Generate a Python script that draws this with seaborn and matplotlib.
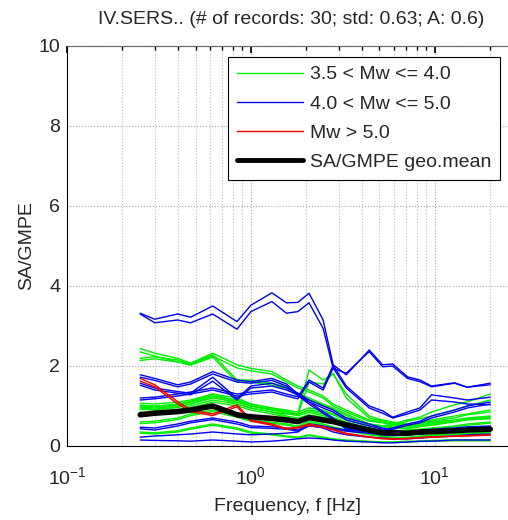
import numpy as np
import pandas as pd
import matplotlib
matplotlib.use("Agg")
import matplotlib.pyplot as plt
from matplotlib.lines import Line2D
import seaborn as sns

freqs = [0.25, 0.3, 0.4, 0.47, 0.62, 0.84, 1.0, 1.3, 1.56, 1.8, 2.07, 2.47,
         2.8, 3.3, 4.4, 5.2, 5.9, 7.1, 8.3, 9.6, 12.8, 15, 20]

# red: Mw > 5.0
R1a = [1.69, 1.53, 1.11, 0.90, 0.80, 1.03, 0.65, 0.55, 0.44, 0.47, 0.55, 0.48, 0.42, 0.32, 0.23, 0.19, 0.18, 0.19, 0.21, 0.23, 0.25, 0.26, 0.28]
R1b = [1.62, 1.48, 1.05, 0.86, 0.76, 0.98, 0.62, 0.52, 0.42, 0.45, 0.52, 0.46, 0.40, 0.30, 0.22, 0.18, 0.17, 0.18, 0.20, 0.22, 0.24, 0.25, 0.27]

# blue: 4.0 < Mw <= 5.0
B1a = [3.32, 3.17, 3.30, 3.22, 3.50, 3.11, 3.52, 3.83, 3.58, 3.59, 3.82, 3.15, 2.03, 1.78, 2.40, 2.03, 2.05, 1.73, 1.65, 1.50, 1.58, 1.47, 1.57]
B1b = [3.30, 3.08, 3.15, 3.08, 3.30, 2.92, 3.36, 3.61, 3.32, 3.36, 3.58, 2.94, 1.94, 1.82, 2.36, 1.98, 2.00, 1.69, 1.61, 1.48, 1.57, 1.47, 1.53]
B2a = [1.57, 1.45, 1.36, 1.32, 1.72, 1.19, 1.50, 1.57, 1.45, 1.32, 1.15, 1.00, 0.90, 0.70, 0.55, 0.45, 0.40, 0.35, 0.38, 0.42, 0.45, 0.48, 0.50]
B2b = [1.52, 1.40, 1.32, 1.28, 1.62, 1.15, 1.45, 1.50, 1.40, 1.28, 1.10, 0.95, 0.85, 0.65, 0.50, 0.42, 0.38, 0.33, 0.35, 0.40, 0.42, 0.45, 0.48]
B3a = [1.78, 1.69, 1.53, 1.60, 1.86, 1.65, 1.61, 1.69, 1.55, 1.30, 1.10, 0.86, 0.70, 0.45, 0.38, 0.40, 0.45, 0.55, 0.62, 0.75, 0.90, 1.00, 1.10]
B3b = [1.72, 1.64, 1.48, 1.55, 1.80, 1.60, 1.57, 1.64, 1.50, 1.26, 1.05, 0.82, 0.66, 0.42, 0.36, 0.38, 0.42, 0.52, 0.58, 0.70, 0.85, 0.95, 1.05]
B4a = [1.20, 1.22, 1.30, 1.35, 1.45, 1.30, 1.35, 1.40, 1.30, 1.23, 1.65, 1.45, 2.02, 1.50, 1.00, 0.88, 0.72, 0.85, 0.95, 1.28, 1.20, 1.15, 1.22]
B4b = [1.15, 1.18, 1.25, 1.30, 1.40, 1.25, 1.30, 1.35, 1.25, 1.18, 1.60, 1.40, 1.95, 1.45, 0.95, 0.82, 0.70, 0.80, 0.90, 1.15, 1.10, 1.05, 1.03]
B5a = [0.47, 0.45, 0.55, 0.62, 0.70, 0.60, 0.50, 0.48, 0.45, 0.40, 0.55, 0.50, 0.45, 0.40, 0.35, 0.30, 0.28, 0.30, 0.32, 0.35, 0.38, 0.40, 0.42]
B5b = [0.43, 0.40, 0.50, 0.58, 0.66, 0.55, 0.46, 0.44, 0.42, 0.37, 0.50, 0.46, 0.42, 0.37, 0.32, 0.28, 0.26, 0.28, 0.30, 0.32, 0.35, 0.37, 0.39]
B6a = [0.22, 0.25, 0.28, 0.30, 0.35, 0.30, 0.28, 0.30, 0.32, 0.35, 0.52, 0.45, 0.35, 0.28, 0.22, 0.20, 0.18, 0.18, 0.20, 0.22, 0.25, 0.28, 0.30]
B6b = [0.15, 0.14, 0.13, 0.12, 0.15, 0.12, 0.10, 0.12, 0.15, 0.18, 0.20, 0.18, 0.15, 0.12, 0.10, 0.08, 0.08, 0.10, 0.12, 0.12, 0.15, 0.15, 0.15]

# green: 3.5 < Mw <= 4.0
G1a = [2.44, 2.32, 2.19, 2.07, 2.32, 2.03, 1.94, 1.86, 1.65, 1.50, 1.40, 1.25, 1.05, 0.90, 0.65, 0.60, 0.55, 0.50, 0.55, 0.60, 0.65, 0.70, 0.75]
G1b = [2.35, 2.25, 2.10, 2.05, 2.25, 1.95, 1.88, 1.80, 1.60, 1.45, 1.35, 1.20, 1.00, 0.85, 0.62, 0.58, 0.52, 0.48, 0.52, 0.58, 0.62, 0.68, 0.72]
G2a = [2.19, 2.23, 2.15, 2.05, 2.28, 1.65, 1.65, 1.57, 1.48, 1.32, 1.20, 1.05, 0.95, 0.80, 0.55, 0.50, 0.48, 0.45, 0.50, 0.55, 0.62, 0.68, 0.70]
G2b = [2.14, 2.18, 2.10, 2.02, 2.22, 1.60, 1.60, 1.52, 1.44, 1.28, 1.16, 1.02, 0.92, 0.76, 0.52, 0.48, 0.46, 0.43, 0.48, 0.52, 0.60, 0.65, 0.68]
G3a = [1.07, 1.05, 1.10, 1.15, 1.30, 1.10, 1.00, 0.90, 0.85, 0.80, 1.90, 1.65, 1.80, 1.30, 0.75, 0.65, 0.60, 0.55, 0.60, 0.65, 0.75, 0.80, 0.90]
G3b = [1.02, 1.00, 1.05, 1.12, 1.25, 1.05, 0.95, 0.85, 0.80, 0.78, 1.60, 1.55, 1.82, 1.20, 0.70, 0.62, 0.58, 0.52, 0.58, 0.62, 0.70, 0.78, 0.85]
G4a = [1.00, 0.98, 1.02, 1.10, 1.25, 1.15, 1.05, 0.95, 0.90, 0.85, 0.95, 0.90, 0.80, 0.70, 0.55, 0.50, 0.55, 0.65, 0.72, 0.85, 1.03, 1.10, 1.30]
G4b = [0.95, 0.92, 0.98, 1.05, 1.20, 1.10, 1.00, 0.92, 0.88, 0.80, 0.90, 0.85, 0.78, 0.65, 0.50, 0.48, 0.52, 0.62, 0.68, 0.75, 0.90, 1.00, 1.15]
G5a = [0.97, 0.95, 1.00, 1.10, 1.30, 1.20, 1.05, 0.95, 0.85, 0.80, 0.88, 0.80, 0.72, 0.60, 0.45, 0.40, 0.38, 0.40, 0.42, 0.45, 0.50, 0.55, 0.60]
G5b = [0.92, 0.90, 0.96, 1.05, 1.24, 1.14, 1.00, 0.90, 0.82, 0.76, 0.84, 0.76, 0.68, 0.56, 0.42, 0.38, 0.36, 0.38, 0.40, 0.43, 0.48, 0.52, 0.57]
G6a = [0.85, 0.82, 0.90, 1.00, 1.15, 1.05, 0.95, 0.85, 0.75, 0.70, 0.78, 0.72, 0.65, 0.55, 0.40, 0.35, 0.32, 0.30, 0.32, 0.35, 0.40, 0.45, 0.48]
G6b = [0.80, 0.78, 0.86, 0.95, 1.10, 1.00, 0.90, 0.80, 0.72, 0.66, 0.74, 0.68, 0.62, 0.52, 0.38, 0.33, 0.30, 0.28, 0.30, 0.33, 0.38, 0.42, 0.45]
G7a = [0.60, 0.62, 0.70, 0.80, 0.90, 0.75, 0.65, 0.60, 0.55, 0.50, 0.62, 0.55, 0.48, 0.40, 0.30, 0.25, 0.22, 0.22, 0.25, 0.28, 0.30, 0.32, 0.35]
G7b = [0.56, 0.58, 0.66, 0.76, 0.86, 0.72, 0.62, 0.57, 0.52, 0.47, 0.58, 0.52, 0.45, 0.38, 0.28, 0.23, 0.20, 0.20, 0.23, 0.26, 0.28, 0.30, 0.33]
G8a = [0.35, 0.33, 0.38, 0.45, 0.55, 0.45, 0.35, 0.30, 0.25, 0.22, 0.28, 0.22, 0.18, 0.15, 0.12, 0.10, 0.10, 0.12, 0.12, 0.14, 0.15, 0.15, 0.15]
G8b = [0.32, 0.30, 0.35, 0.42, 0.52, 0.42, 0.32, 0.28, 0.23, 0.20, 0.26, 0.20, 0.16, 0.13, 0.10, 0.09, 0.09, 0.10, 0.11, 0.12, 0.13, 0.13, 0.13]

geo_mean = [0.78, 0.82, 0.86, 0.90, 1.00, 0.78, 0.73, 0.69, 0.65, 0.61, 0.71, 0.65, 0.61, 0.53, 0.40, 0.33, 0.33, 0.32, 0.35, 0.36, 0.38, 0.40, 0.42]

x_tick_values = [0.1, 1, 10]
x_tick_labels = ["$10^{-1}$", "$10^{0}$", "$10^{1}$"]
y_tick_values = [0, 2, 4, 6, 8, 10]

groups = ["3.5 < Mw <= 4.0", "4.0 < Mw <= 5.0", "Mw > 5.0"]
colors = {groups[0]: "#00ee00", groups[1]: "#0000ee", groups[2]: "#ee0000"}

records = [
    (groups[0], [G1a, G1b, G2a, G2b, G3a, G3b, G4a, G4b, G5a, G5b, G6a, G6b, G7a, G7b, G8a, G8b]),
    (groups[1], [B1a, B1b, B2a, B2b, B3a, B3b, B4a, B4b, B5a, B5b, B6a, B6b]),
    (groups[2], [R1a, R1b]),
]

rows = []
rid = 0
for g, series in records:
    for s in series:
        for f, v in zip(freqs, s):
            rows.append({"freq": f, "sa": v, "record": rid, "group": g})
        rid += 1
df = pd.DataFrame(rows)

sns.set_theme(style="white")
plt.rcParams["font.family"] = ["Liberation Sans", "DejaVu Sans"]
plt.rcParams["mathtext.fontset"] = "custom"
plt.rcParams["mathtext.rm"] = "Liberation Sans"
plt.rcParams["axes.unicode_minus"] = False

fig = plt.figure(figsize=(5.08, 5.20), dpi=100)
ax = fig.add_axes([67 / 508, 1 - 446 / 520, 1 - 67 / 508, 400 / 520])

sns.lineplot(data=df, x="freq", y="sa", hue="group", units="record",
             estimator=None, palette=colors, lw=1.0, legend=False, ax=ax,
             sort=False)
sns.lineplot(x=freqs, y=geo_mean, color="black", lw=4.0, ax=ax)

ax.set_xscale("log")
ax.set_xlim(0.1, 25)
ax.set_ylim(0, 10)
ax.set_yticks(y_tick_values)
ax.set_xticks(x_tick_values)
ax.set_xticklabels(x_tick_labels)
ax.grid(True, which="major", ls=":", color="0.65", lw=0.8)
ax.grid(True, which="minor", axis="x", ls=":", color="0.75", lw=0.8)
ax.tick_params(which="both", direction="in", top=True, right=False,
               labelsize=14, color="black")
ax.tick_params(which="major", length=5)
ax.tick_params(which="minor", length=3)
ax.tick_params(axis="x", which="major", pad=15)
ax.tick_params(axis="y", pad=5)
for sp in ax.spines.values():
    sp.set_color("black")
    sp.set_linewidth(0.8)
ax.spines["right"].set_visible(False)
ax.spines["top"].set_color("0.4")

ax.set_xlabel("Frequency, f [Hz]", fontsize=14, labelpad=6)
ax.set_ylabel("SA/GMPE", fontsize=14, labelpad=2)
fig.text(291 / 508, 1 - 20 / 520,
         "IV.SERS.. (# of records: 30; std: 0.63; A: 0.6)",
         ha="center", va="center", fontsize=14)

handles = [Line2D([], [], color=colors[groups[0]], lw=1.0),
           Line2D([], [], color=colors[groups[1]], lw=1.0),
           Line2D([], [], color=colors[groups[2]], lw=1.0),
           Line2D([], [], color="black", lw=3.5)]
labels = groups + ["SA/GMPE geo.mean"]
leg = ax.legend(handles, labels, loc="upper right",
                bbox_to_anchor=(500 / 508, 1 - 57 / 520),
                bbox_transform=fig.transFigure, borderaxespad=0,
                fontsize=14, frameon=True, fancybox=False,
                handlelength=3.4, handletextpad=0.35, labelspacing=0.6,
                borderpad=0.45)
leg.get_frame().set_edgecolor("black")
leg.get_frame().set_linewidth(0.8)
leg.get_frame().set_alpha(1)

fig.savefig("out.png", dpi=100)
